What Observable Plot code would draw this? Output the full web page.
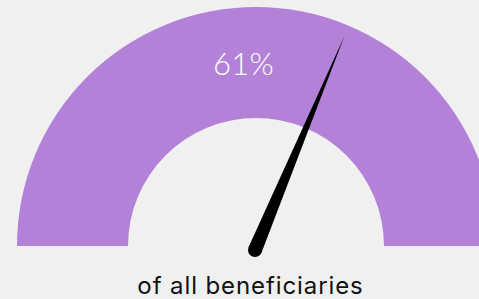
<!DOCTYPE html>
<html>
<head>
<meta charset="utf-8">
<script src="https://cdn.jsdelivr.net/npm/d3@7"></script>
<script src="https://cdn.jsdelivr.net/npm/@observablehq/plot@0.6"></script>
<style>
  html, body { margin: 0; padding: 0; background: #f0f0f0; }
  #chart { width: 479px; height: 299px; overflow: hidden; }
</style>
</head>
<body>
<div id="chart"></div>
<script>
// Data
const labelValue = [61];          // shown percentage
const needleValue = [62.6];       // where the needle points
const gaugeRange = [0, 100];
const captionText = ["of all beneficiaries"];

const W = 479, H = 299;
const outerR = 239, innerR = 128;

const gaugeColor = "#b382d8";

// angle (radians, math convention) for a gauge value: 0 -> left (pi), 100 -> right (0)
const angleOf = v => Math.PI * (1 - (v - gaugeRange[0]) / (gaugeRange[1] - gaugeRange[0]));

// Custom mark: gauge band drawn with d3.arc, centred via plot scales
function gaugeBand(data) {
  return (index, scales) => {
    const cx = scales.x(0), cy = scales.y(0);
    const kx = Math.abs(scales.x(1) - scales.x(0));
    const span = data[1] - data[0];
    const arc = d3.arc()
      .innerRadius(innerR * kx)
      .outerRadius(outerR * kx)
      .startAngle(-Math.PI / 2)
      .endAngle(-Math.PI / 2 + Math.PI * span / (gaugeRange[1] - gaugeRange[0]));
    const g = d3.create("svg:g");
    g.append("path")
      .attr("transform", `translate(${cx},${cy})`)
      .attr("d", arc())
      .attr("fill", gaugeColor);
    return g.node();
  };
}

function needle(data) {
  return (index, scales) => {
    const v = data[0];
    const a = angleOf(v);
    const px = -1, py = -4;            // pivot (slightly below centre)
    const len = 232;
    const hw = 7;
    const tip = [px + len * Math.cos(a), py + len * Math.sin(a)];
    const nx = -Math.sin(a), ny = Math.cos(a);
    const b1 = [px + hw * nx, py + hw * ny];
    const b2 = [px - hw * nx, py - hw * ny];
    const P = p => [scales.x(p[0]), scales.y(p[1])];
    const [T, B1, B2, C] = [P(tip), P(b1), P(b2), P([px, py])];
    const g = d3.create("svg:g");
    g.append("path")
      .attr("d", `M${B1[0]},${B1[1]} L${T[0]},${T[1]} L${B2[0]},${B2[1]} Z`)
      .attr("fill", "#000");
    g.append("circle")
      .attr("cx", C[0]).attr("cy", C[1]).attr("r", hw)
      .attr("fill", "#000");
    return g.node();
  };
}

const chart = Plot.plot({
  width: W,
  height: H,
  margin: 0,
  style: { background: "#f0f0f0", overflow: "hidden" },
  x: { domain: [-256, W - 256], range: [0, W], axis: null },
  y: { domain: [246 - H, 246], range: [H, 0], axis: null },
  marks: [
    gaugeBand(gaugeRange),
    Plot.text(labelValue, {
      x: () => -13,
      y: () => 181,
      text: d => `${d}%`,
      fill: "#ffffff",
      fontSize: 31,
      fontWeight: 300,
      fontFamily: "Lato, 'Noto Sans', sans-serif",
      textAnchor: "middle",
      lineAnchor: "middle"
    }),
    needle(needleValue),
    Plot.text(captionText, {
      x: () => -6,
      y: () => -40,
      text: d => d,
      fill: "#111",
      fontSize: 24,
      fontFamily: "Inter, 'Noto Sans', sans-serif",
      textAnchor: "middle",
      lineAnchor: "middle"
    })
  ]
});

d3.select(chart).selectAll("text")
  .filter(function () { return this.textContent === captionText[0]; })
  .style("letter-spacing", "0.9px");
d3.select(chart).selectAll("text")
  .filter(function () { return this.textContent === `${labelValue[0]}%`; })
  .style("letter-spacing", "0.3px");

document.getElementById("chart").appendChild(chart);
</script>
</body>
</html>
